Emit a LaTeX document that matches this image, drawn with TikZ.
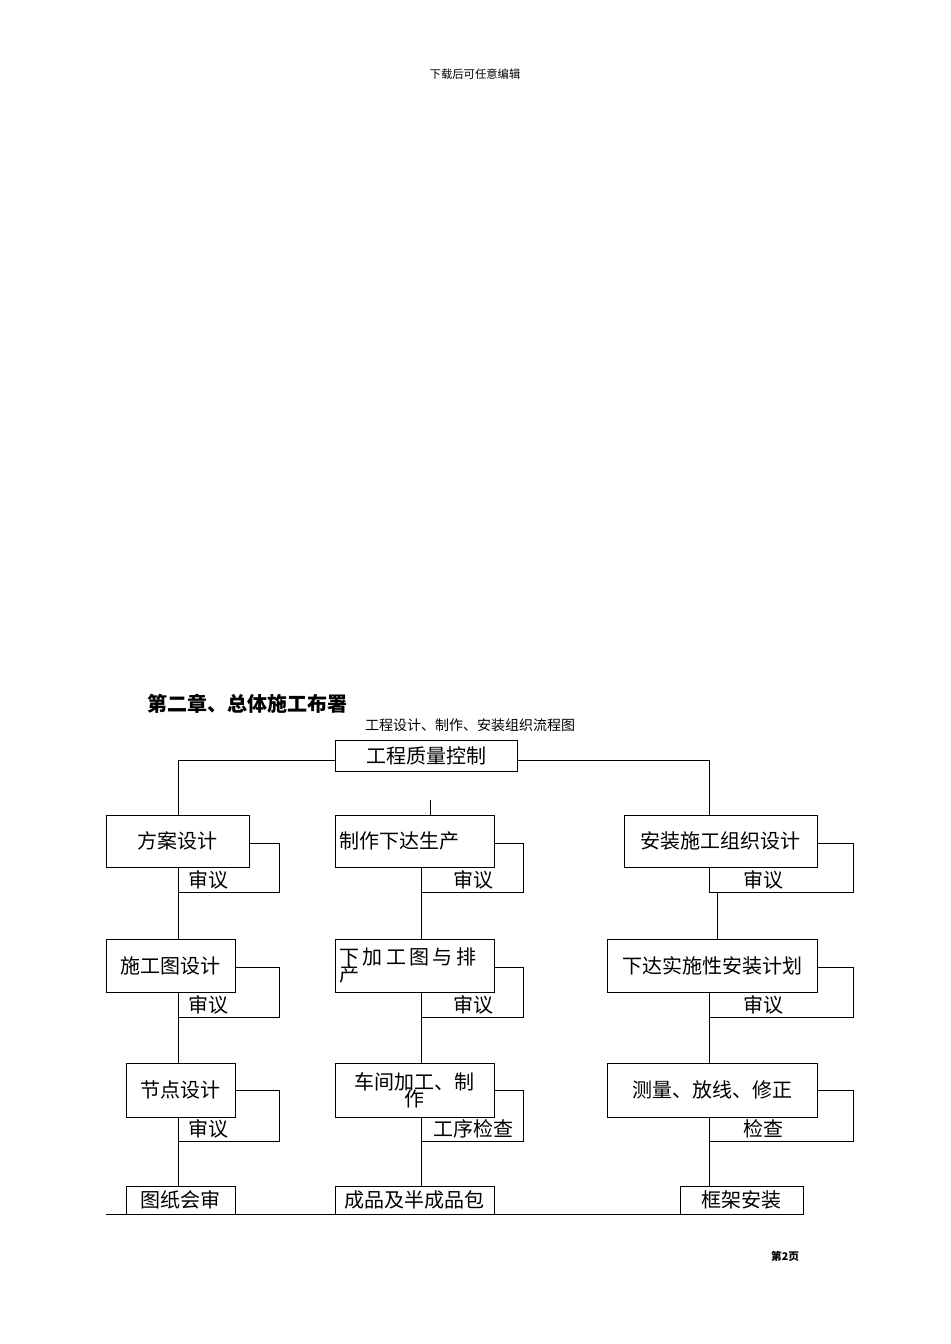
\documentclass[tikz,border=0pt]{standalone}
\usepackage{fontspec}
\newfontfamily\cjk{Noto Sans CJK SC}
\begin{document}
\begin{tikzpicture}[x=0.75pt,y=-0.75pt,font=\cjk,
 bx/.style={draw,fill=white,line width=0.6pt,inner sep=0pt},
 rv/.style={draw,line width=0.6pt},
 ln/.style={line width=0.6pt},
 t/.style={font=\cjk\fontsize{15}{16}\selectfont}]
\useasboundingbox (0,0) rectangle (950,1344);
\node at (475,74) {\cjk\fontsize{8.5}{10}\selectfont 下载后可任意编辑};
\node[anchor=west] at (143,704) {\cjk\bfseries\fontsize{15}{17}\selectfont 第二章、总体施工布署};
\node at (470,725) {\cjk\fontsize{10.5}{12}\selectfont 工程设计、制作、安装组织流程图};
\node at (785,1256) {\cjk\bfseries\fontsize{8}{9}\selectfont 第2页};
% review brackets
\foreach \xa/\xb/\ya/\yb/\nm in {178/279/843/892/ra1,421/523/843/892/rb1,709/853/843/892/rc1,
 178/279/967/1017/ra2,421/523/967/1017/rb2,709/853/967/1017/rc2,
 178/279/1090/1141/ra3,421/523/1090/1141/rb3,709/853/1090/1141/rc3}
 \draw[rv] (\xa,\ya) rectangle (\xb,\yb) coordinate (\nm);
% connectors
\coordinate (tl) at (178,760); \coordinate (tr) at (709,760); \coordinate (tm) at (430,800);
\draw[ln] (335,760) -- (tl) -- (178,815);
\draw[ln] (517,760) -- (tr) -- (709,815);
\draw[ln] (tm) -- (430,815);
\foreach \x in {178,421}{\draw[ln] (\x,892)--(\x,939); \draw[ln] (\x,1017)--(\x,1063); \draw[ln] (\x,1141)--(\x,1186);}
\draw[ln] (717,892)--(717,939); \draw[ln] (709,1017)--(709,1063); \draw[ln] (709,1141)--(709,1186);
\draw[ln] (106,1214) -- (680,1214);
% boxes
\node[bx,minimum width=182*0.75pt,minimum height=31*0.75pt,t] (top) at (426,756) {工程质量控制};
\node[bx,minimum width=143*0.75pt,minimum height=52*0.75pt,t] (a1) at (177.5,841) {方案设计};
\node[bx,minimum width=159*0.75pt,minimum height=52*0.75pt,t,text width=150*0.75pt,align=left] (b1) at (414.5,841) {制作下达生产};
\node[bx,minimum width=193*0.75pt,minimum height=52*0.75pt,t] (c1) at (720.5,841) {安装施工组织设计};
\node[bx,minimum width=129*0.75pt,minimum height=53*0.75pt,t] (a2) at (170.5,965.5) {施工图设计};
\node[bx,minimum width=159*0.75pt,minimum height=53*0.75pt,t,text width=150*0.75pt,align=left] (b2) at (414.5,965.5) {下\,加\,工\,图\,与\,排\\[-3pt]产};
\node[bx,minimum width=210*0.75pt,minimum height=53*0.75pt,t] (c2) at (712,965.5) {下达实施性安装计划};
\node[bx,minimum width=109*0.75pt,minimum height=54*0.75pt,t] (a3) at (180.5,1090) {节点设计};
\node[bx,minimum width=159*0.75pt,minimum height=54*0.75pt,t,align=center] (b3) at (414.5,1090) {车间加工、制\\[-3pt]作};
\node[bx,minimum width=210*0.75pt,minimum height=54*0.75pt,t] (c3) at (712,1090) {测量、放线、修正};
\node[bx,minimum width=109*0.75pt,minimum height=28*0.75pt,t] (a4) at (180.5,1200) {图纸会审};
\node[bx,minimum width=159*0.75pt,minimum height=28*0.75pt,t] (b4) at (414.5,1200) {成品及半成品包};
\node[bx,minimum width=123*0.75pt,minimum height=28*0.75pt,t] (c4) at (741.5,1200) {框架安装};
% review labels
\foreach \x/\y/\s/\n in {208/880/审议/la1,473/880/审议/lb1,763/880/审议/lc1,
 208/1005/审议/la2,473/1005/审议/lb2,763/1005/审议/lc2,
 208/1129/审议/la3,473/1129/工序检查/lb3,763/1129/检查/lc3}
 \node[t] (\n) at (\x,\y) {\s};
\end{tikzpicture}
\end{document}
